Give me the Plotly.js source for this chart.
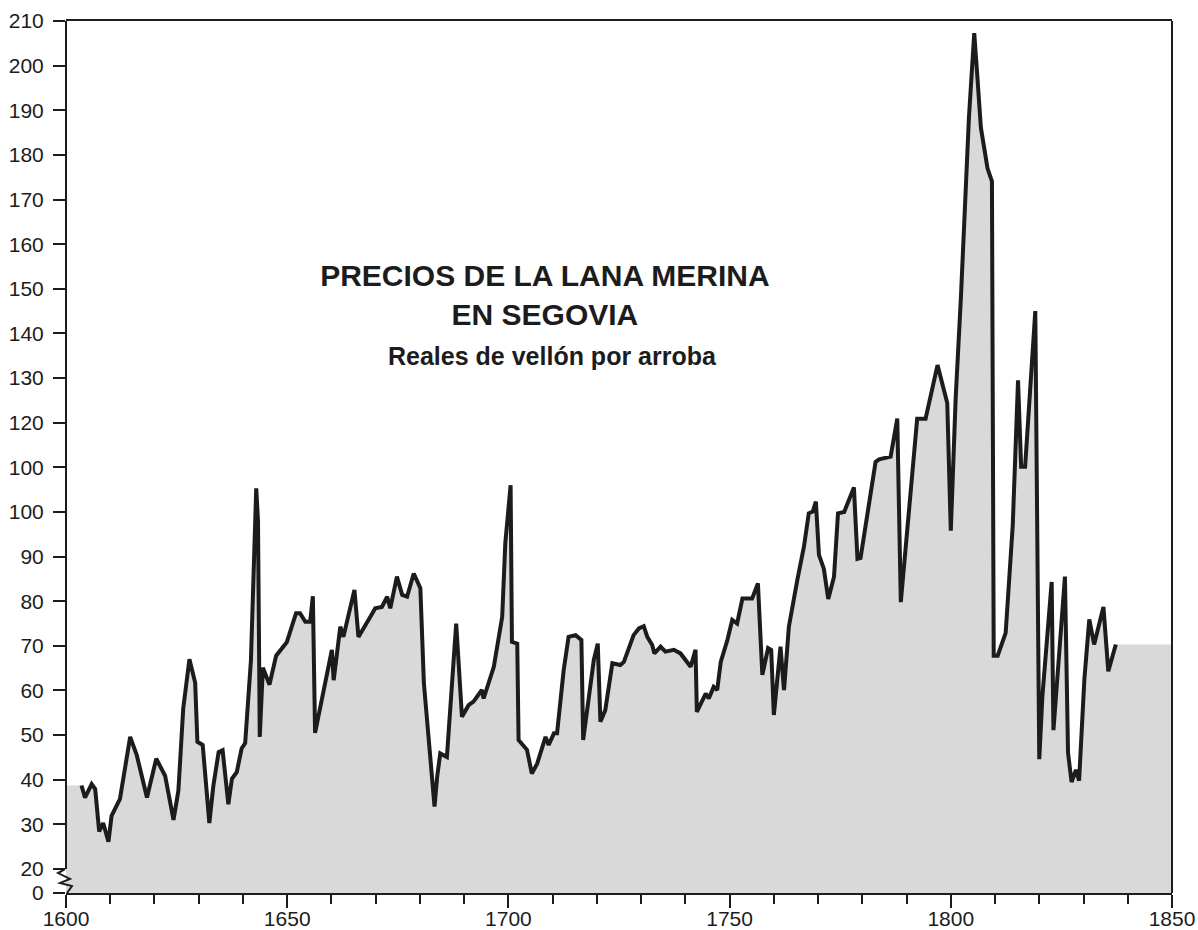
<!DOCTYPE html>
<html>
<head>
<meta charset="utf-8">
<script src="https://cdn.plot.ly/plotly-3.0.1.min.js"></script>
<style>html,body{margin:0;padding:0;background:#fff;}#chart{width:1198px;height:930px;}</style>
</head>
<body>
<div id="chart"></div>
<script>
// Years and prices in reales de vellón por arroba
const years = [1603.5,1604.3,1605.8,1606.6,1607.5,1608.4,1609.6,1610.3,1612.2,1614.5,1616,1618.3,1620.4,1622.4,1624.3,1625.4,1626.5,1627.9,1629.2,1629.7,1630.9,1632.4,1633.3,1634.5,1635.4,1636.7,1637.5,1638.6,1639.7,1640.5,1641.8,1643,1643.4,1643.8,1644.5,1646,1647.5,1649.9,1652,1652.9,1654.1,1655.2,1655.8,1656.3,1660.1,1660.5,1662,1662.7,1665.2,1666.1,1668.8,1669.9,1671.4,1672.6,1673.3,1674.8,1676,1677.1,1678.6,1680.1,1680.9,1682,1683.3,1683.9,1684.6,1686.1,1687.3,1688.2,1689.5,1691,1692.1,1694,1694.4,1696.7,1698.6,1699.3,1700.5,1700.8,1702,1702.3,1704.2,1705.3,1706.5,1708.4,1709.1,1710.3,1711,1712.5,1713.6,1715.2,1716.5,1716.9,1719.3,1720.2,1720.8,1721.9,1723.5,1725.3,1726.1,1728.3,1729.5,1730.6,1731.4,1732.5,1733,1734.4,1735.5,1737.4,1738.9,1740,1741.2,1742.3,1742.6,1744.6,1745.3,1746.4,1747.2,1748,1749.5,1750.6,1751.7,1752.9,1755.1,1756.4,1757.4,1758.7,1759.4,1760,1761.5,1762.3,1763.4,1765.3,1766.8,1767.9,1768.8,1769.5,1770.2,1771.3,1772.3,1773.6,1774.5,1775.9,1778.1,1778.9,1779.6,1783,1783.8,1786.4,1787.9,1788.7,1792.4,1794.3,1797,1799.2,1800,1801.1,1802.3,1804.1,1805.3,1806,1806.8,1808.3,1809.3,1809.7,1810.6,1812.4,1814,1815.2,1815.9,1816.8,1819.1,1820,1820.7,1822.8,1823.2,1824.5,1825.8,1826.5,1827.3,1828.3,1829,1830.2,1831.3,1832.4,1834.5,1835.6,1837.3];
const prices = [38.7,36,39,37.9,28.4,30.3,26.1,31.9,35.7,49.6,45.5,36,44.7,40.9,31,37.5,56,67,61.7,48.5,47.8,30.3,38.6,46.2,46.6,34.5,40.2,41.7,47,48.2,66.7,105.3,98,49.6,65.1,61.3,67.8,70.8,77.3,77.3,75.4,75.4,81.1,50.5,69.1,62.3,74.3,72,82.5,72,76.5,78.4,78.7,81,78.4,85.5,81.4,81,86.2,82.9,61.6,48.1,34,40.7,45.9,45.1,61.6,75,54.1,56.7,57.5,60.1,58.2,65.3,76.5,93,106,70.9,70.5,48.9,46.7,41.4,43.6,49.6,47.8,50.4,50.4,64.6,72,72.4,71.3,48.9,66.8,70.5,53,55.6,66.1,65.7,66.4,72.4,73.9,74.4,72,70.2,68.3,69.8,68.7,69.1,68.3,66.8,65.3,69.1,55.2,59.3,58.2,60.8,60.1,66.4,71.3,75.8,75,80.6,80.6,84,63.5,69.5,69.1,54.5,69.8,60.1,74.3,84.7,92.2,99.7,100.1,102.3,90.4,87.3,80.5,85.5,99.7,100,105.5,89.5,89.7,111.2,111.8,112.4,120.9,79.8,120.9,120.9,132.9,124.4,95.8,125.5,148.4,188.4,207.3,197.6,186.1,177,174.1,67.8,67.8,72.9,97,129.5,110.1,110.1,145,44.6,58.7,84.3,51.1,68.3,85.5,46,39.5,42.2,39.8,62.6,75.9,70.3,78.7,64.3,70.3];

// Axis ticks (the y axis is broken between 0 and 20)
const xRange = [1600, 1850];
const yBreakBase = 14.62;   // where the "0" of the broken axis sits
const yTop = 210;
const yTickVals = [yBreakBase,20,30,40,50,60,70,80,90,100,110,120,130,140,150,160,170,180,190,200,210];
const yTickText = ["0","20","30","40","50","60","70","80","90","100","100","120","130","140","150","160","170","180","190","200","210"];

const titleText = "<b>PRECIOS DE LA LANA MERINA<br>EN SEGOVIA</b>";
const subtitleText = "<b>Reales de vellón por arroba</b>";

// Shaded area: extended flat to the axes at the first and last values
const fillX = [xRange[0]].concat(years, [xRange[1]]);
const fillY = [prices[0]].concat(prices, [prices[prices.length - 1]]);

const ink = '#1c1c1c';
const font = 'Liberation Sans, Arial, Helvetica, sans-serif';

const traces = [
  {x: fillX, y: fillY, type: 'scatter', mode: 'none', fill: 'tozeroy',
   fillcolor: '#d9d9d9', hoverinfo: 'skip', showlegend: false},
  {x: years, y: prices, type: 'scatter', mode: 'lines',
   line: {color: ink, width: 4, shape: 'linear'}, showlegend: false}
];

const layout = {
  width: 1198, height: 930,
  margin: {l: 66, r: 26, t: 21, b: 37},
  paper_bgcolor: '#ffffff', plot_bgcolor: '#ffffff',
  font: {family: font, color: ink},
  showlegend: false,
  title: {text: titleText, font: {family: font, size: 30, color: ink},
          xref: 'paper', x: 0.433, xanchor: 'center',
          yref: 'container', y: 0.693, yanchor: 'top'},
  annotations: [
    {text: subtitleText, xref: 'paper', yref: 'paper', x: 0.44, y: 0.616,
     xanchor: 'center', yanchor: 'middle', showarrow: false,
     font: {family: font, size: 25, color: ink}}
  ],
  xaxis: {
    range: xRange, tickmode: 'linear', tick0: 1600, dtick: 50,
    ticks: 'outside', ticklen: 13, tickwidth: 2, tickcolor: ink, ticklabelstandoff: -7,
    minor: {tickmode: 'linear', tick0: 1600, dtick: 10, ticks: 'outside', ticklen: 9, tickwidth: 2, tickcolor: ink},
    showline: true, mirror: true, linecolor: ink, linewidth: 2,
    showgrid: false, zeroline: false,
    tickfont: {family: font, size: 21, color: ink}
  },
  yaxis: {
    range: [yBreakBase, yTop], tickmode: 'array', tickvals: yTickVals, ticktext: yTickText,
    ticks: 'outside', ticklen: 12, tickwidth: 2, tickcolor: ink, ticklabelstandoff: 5,
    showline: false, showgrid: false, zeroline: false,
    tickfont: {family: font, size: 21, color: ink}
  },
  shapes: [
    // left axis line above the break
    {type: 'line', xref: 'paper', yref: 'y', x0: 0, x1: 0, y0: 20, y1: yTop,
     line: {color: ink, width: 2}},
    // right frame line
    {type: 'line', xref: 'paper', yref: 'paper', x0: 1, x1: 1, y0: 0, y1: 1,
     line: {color: ink, width: 2}},
    // break symbol
    {type: 'path', xref: 'paper', yref: 'paper',
     path: 'M -0.0009,0.0275 L -0.0072,0.0229 L 0.0036,0.0161 L -0.0054,0.0115 L 0.0054,0.008 L 0.0009,0',
     line: {color: ink, width: 2}}
  ]
};

Plotly.newPlot('chart', traces, layout, {staticPlot: true, displayModeBar: false});
</script>
</body>
</html>
